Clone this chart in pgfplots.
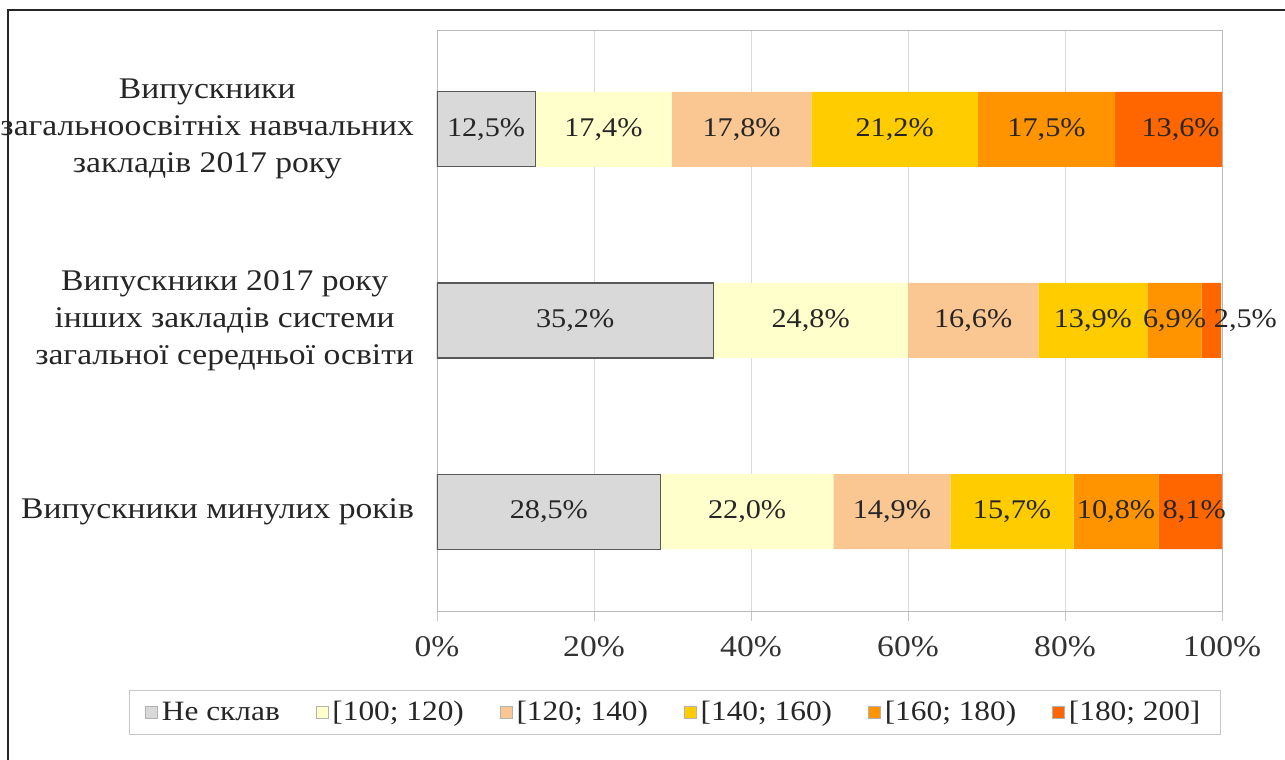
\documentclass[border=0pt]{standalone}
\usepackage{fontspec}
\setmainfont{Liberation Serif}[FakeStretch=1.12]
\usepackage{pgfplots}
\usepackage{pgfplotstable}
\pgfplotsset{compat=1.18}

\definecolor{cnone}{HTML}{D9D9D9}
\definecolor{c100}{HTML}{FFFFCC}
\definecolor{c120}{HTML}{FAC692}
\definecolor{c140}{HTML}{FFCC00}
\definecolor{c160}{HTML}{FF9400}
\definecolor{c180}{HTML}{FF6600}

% shares in %, rows from bottom (1) to top (3)
\pgfplotstableread{
y  a    b    c    d    e    f
3  12.5 17.4 17.8 21.2 17.5 13.6
2  35.2 24.8 16.6 13.9 6.9  2.5
1  28.5 22.0 14.9 15.7 10.8 8.1
}\shares

\begin{document}
\begin{tikzpicture}
\path[use as bounding box] (-218.5pt,-74.5pt) rectangle (424pt,305.5pt);
\draw[black!85, line width=1.3pt] (-214.5pt,-80pt) -- (-214.5pt,300.5pt) -- (430pt,300.5pt);
\begin{axis}[
  scale only axis,
  width=392.5pt, height=290.5pt,
  xbar stacked,
  bar width=37.5pt,
  xmin=0, xmax=100,
  ymin=0.48, ymax=3.52,
  xtick={0,20,...,100},
  xticklabel={\pgfmathprintnumber{\tick}\%},
  ytick={1,2,3},
  yticklabels={{Випускники минулих років},
    {Випускники 2017 року\\інших закладів системи\\загальної середньої освіти},
    {Випускники\\загальноосвітніх навчальних\\закладів 2017 року}},
  /pgf/number format/assume math mode=true,
  tick pos=left,
  tick align=outside,
  major tick length=5pt,
  xtick style={draw=gray!45},
  ytick style={draw=none},
  axis line style={draw=gray!55},
  xmajorgrids,
  grid style={draw=gray!30},
  xticklabel style={font=\fontsize{15}{18}\selectfont, text=black!80, yshift=-4pt},
  yticklabel style={align=center, font=\fontsize{15}{18.5}\selectfont, text=black!85, xshift=-3pt},
  visualization depends on={rawx \as \myx},
  visualization depends on={rawy \as \myy},
  nodes near coords={\pgfmathprintnumber[fixed,fixed zerofill,precision=1,use comma]{\myx}\%},
  every node near coord/.append style={anchor=center,
    font=\fontsize{13.5}{15}\selectfont, text=black!85},
  legend columns=6,
  legend image code/.code={\draw[#1, draw=gray!60, line width=0.3pt] (0pt,-3pt) rectangle (6pt,3pt);},
  legend style={at={(0.303,-0.136)}, anchor=north, draw=gray!45,
    font=\fontsize{14}{16}\selectfont, text=black!85,
    inner xsep=8pt, inner ysep=3.5pt,
    /tikz/every even column/.append style={column sep=16pt}},
]
\addplot[fill=cnone, draw=gray!70!black, line width=0.6pt] table[x=a, y=y] {\shares};
\addplot[fill=c100, draw=none] table[x=b, y=y] {\shares};
\addplot[fill=c120, draw=none] table[x=c, y=y] {\shares};
\addplot[fill=c140, draw=none] table[x=d, y=y] {\shares};
\addplot[fill=c160, draw=none] table[x=e, y=y] {\shares};
\addplot[fill=c180, draw=none,
  every node near coord/.append style={xshift={(\myy==3)*6pt+(\myy==2)*17pt+(\myy==1)*2pt}}]
  table[x=f, y=y] {\shares};
\legend{Не склав,{\relax[100; 120)},{\relax[120; 140)},{\relax[140; 160)},{\relax[160; 180)},{\relax[180; 200]}}
\end{axis}
\end{tikzpicture}
\end{document}
